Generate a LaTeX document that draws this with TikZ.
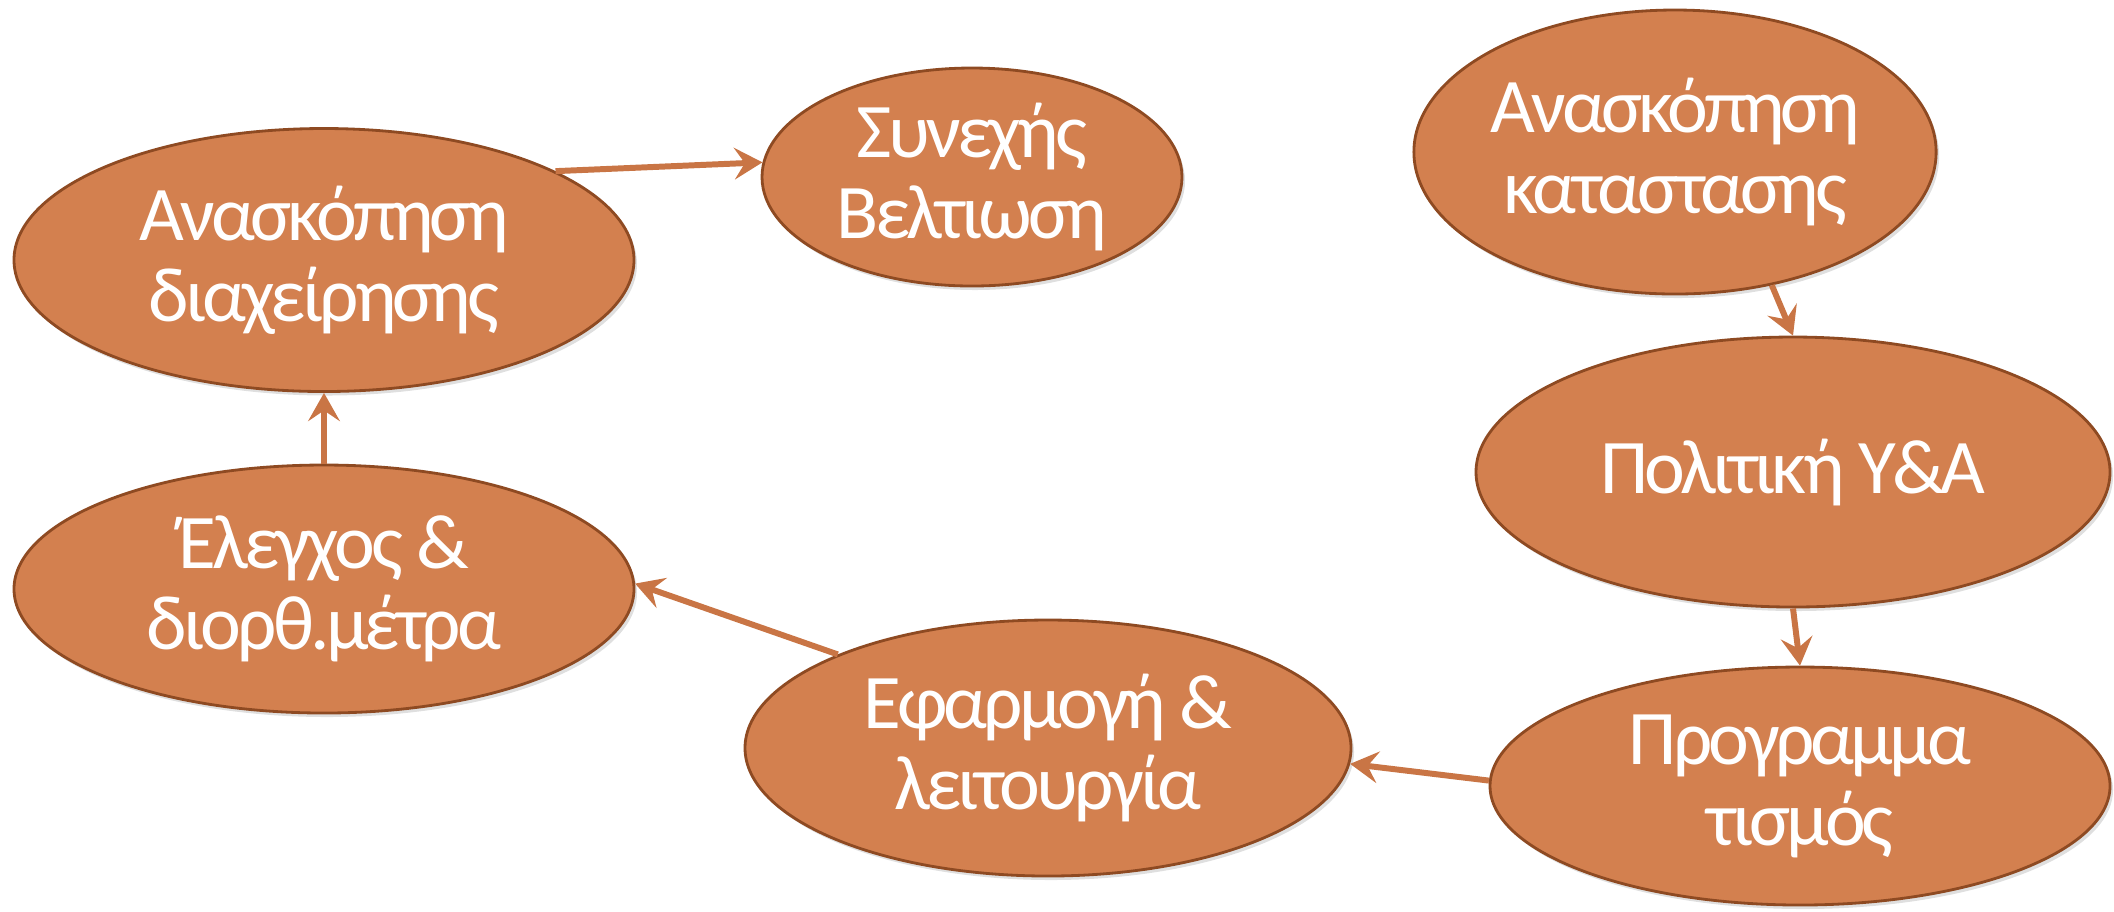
\documentclass[tikz,border=0pt]{standalone}
\usepackage{fontspec}
\setmainfont{Carlito}
\usetikzlibrary{shapes.geometric,arrows.meta,shadows}
\definecolor{cyclefill}{HTML}{D3804F}
\definecolor{cycleedge}{HTML}{8E4A22}
\definecolor{cycleline}{HTML}{C97545}

\begin{document}
\begin{tikzpicture}[
    stage/.style={ellipse, fill=cyclefill, draw=cycleedge, line width=0.8pt,
        inner sep=0pt, align=center, text=white,
        font=\fontsize{22}{23}\selectfont\addfontfeature{LetterSpace=-5},
        drop shadow={opacity=0.25, shadow xshift=0.03, shadow yshift=-0.04}},
    flow/.style={-{Stealth[length=8pt,width=9pt,inset=3pt]}, cycleline, line width=1.7pt}]
    \useasboundingbox (0,0) rectangle (21.14,-9.11);

    \node[stage, minimum width=6.20cm, minimum height=2.63cm] (mgmtreview) at (3.24,-2.60) {Ανασκόπηση\\διαχείρησης};
    \node[stage, minimum width=4.20cm, minimum height=2.18cm] (improve) at (9.72,-1.77) {Συνεχής\\Βελτιωση};
    \node[stage, minimum width=4.26cm, minimum height=2.84cm] (sitreview) at (16.75,-1.52) {Ανασκόπηση\\καταστασης};
    \node[stage, minimum width=6.34cm, minimum height=2.70cm] (policy) at (17.93,-4.72) {Πολιτική Υ\&Α};
    \node[stage, minimum width=6.20cm, minimum height=2.38cm] (planning) at (18.00,-7.86) {Προγραμμα\\τισμός};
    \node[stage, minimum width=6.06cm, minimum height=2.56cm] (operation) at (10.48,-7.48) {Εφαρμογή \&\\λειτουργία};
    \node[stage, minimum width=6.20cm, minimum height=2.48cm] (checking) at (3.24,-5.89) {Έλεγχος \&\\διορθ.μέτρα};

    \draw[flow] (mgmtreview.21) -- (improve.176);
    \draw[flow] (sitreview.-54) -- (policy.north);
    \draw[flow] (policy.south) -- (planning.north);
    \draw[flow] (planning.179) -- (operation.-3);
    \draw[flow] (operation.156) -- (checking.1);
    \draw[flow] (checking.north) -- (mgmtreview.south);
\end{tikzpicture}
\end{document}
